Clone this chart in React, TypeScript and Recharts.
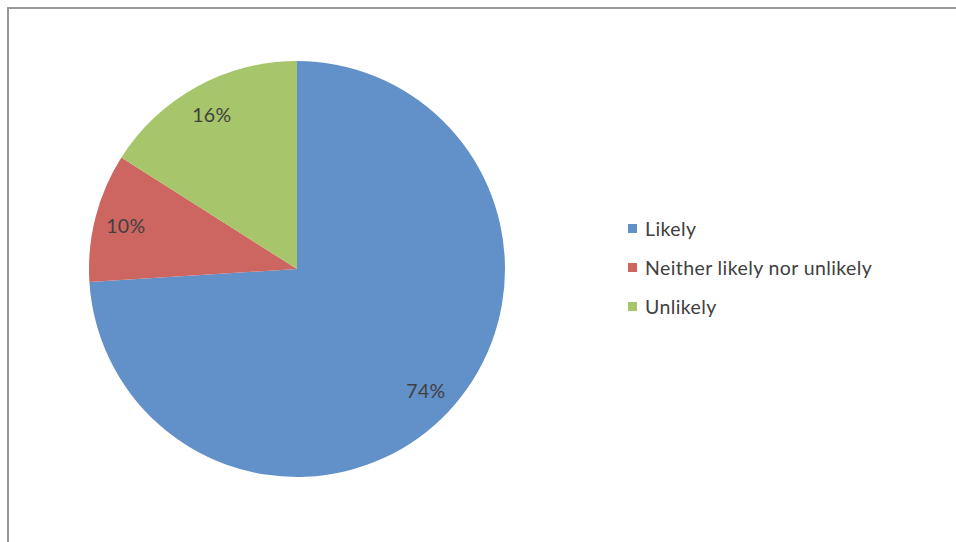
import { PieChart, Pie, Cell, Legend } from "recharts";

const categories = ["Likely", "Neither likely nor unlikely", "Unlikely"];
const shares = [74, 10, 16];
const colors = ["#6290C8", "#CD6560", "#A7C56B"];

const data = categories.map((name, i) => ({ name, value: shares[i] }));

const RAD = Math.PI / 180;
const FONT = "Lato, 'Open Sans', sans-serif";

const renderLabel = (props: any) => {
  const { cx, cy, midAngle, outerRadius, value } = props;
  const r = outerRadius * 0.85;
  const x = cx + r * Math.cos(-midAngle * RAD);
  const y = cy + r * Math.sin(-midAngle * RAD);
  return (
    <text
      x={x}
      y={y}
      fill="#404040"
      fontSize={19.5}
      letterSpacing={0.3}
      fontFamily={FONT}
      textAnchor="middle"
      dominantBaseline="central"
    >
      {value}%
    </text>
  );
};

const renderLegend = () => (
  <div
    style={{
      fontFamily: FONT,
      fontSize: 19.5,
      letterSpacing: 0.4,
      color: "#404040",
    }}
  >
    {categories.map((c, i) => (
      <div
        key={c}
        style={{ display: "flex", alignItems: "center", height: 39 }}
      >
        <span
          style={{
            width: 9,
            height: 9,
            background: colors[i],
            marginRight: 8,
            display: "inline-block",
          }}
        />
        {c}
      </div>
    ))}
  </div>
);

export default function App() {
  return (
    <div
      style={{
        position: "fixed",
        left: 0,
        top: 0,
        width: 956,
        height: 542,
        background: "#fff",
        overflow: "hidden",
      }}
    >
      <div
        style={{
          position: "absolute",
          left: 7,
          top: 7,
          width: 960,
          height: 540,
          borderTop: "2px solid #999",
          borderLeft: "2px solid #999",
        }}
      />
      <div style={{ position: "absolute", left: 0, top: 0 }}>
        <PieChart
          width={956}
          height={542}
          margin={{ top: 0, right: 0, bottom: 0, left: 0 }}
        >
          <Pie
            data={data}
            dataKey="value"
            nameKey="name"
            cx={297}
            cy={269}
            outerRadius={208}
            startAngle={90}
            endAngle={-270}
            stroke="none"
            label={renderLabel}
            labelLine={false}
            isAnimationActive={false}
          >
            {data.map((d, i) => (
              <Cell key={d.name} fill={colors[i]} />
            ))}
          </Pie>
          <Legend
            content={renderLegend}
            wrapperStyle={{ left: 628, top: 209, width: 320 }}
          />
        </PieChart>
      </div>
    </div>
  );
}
